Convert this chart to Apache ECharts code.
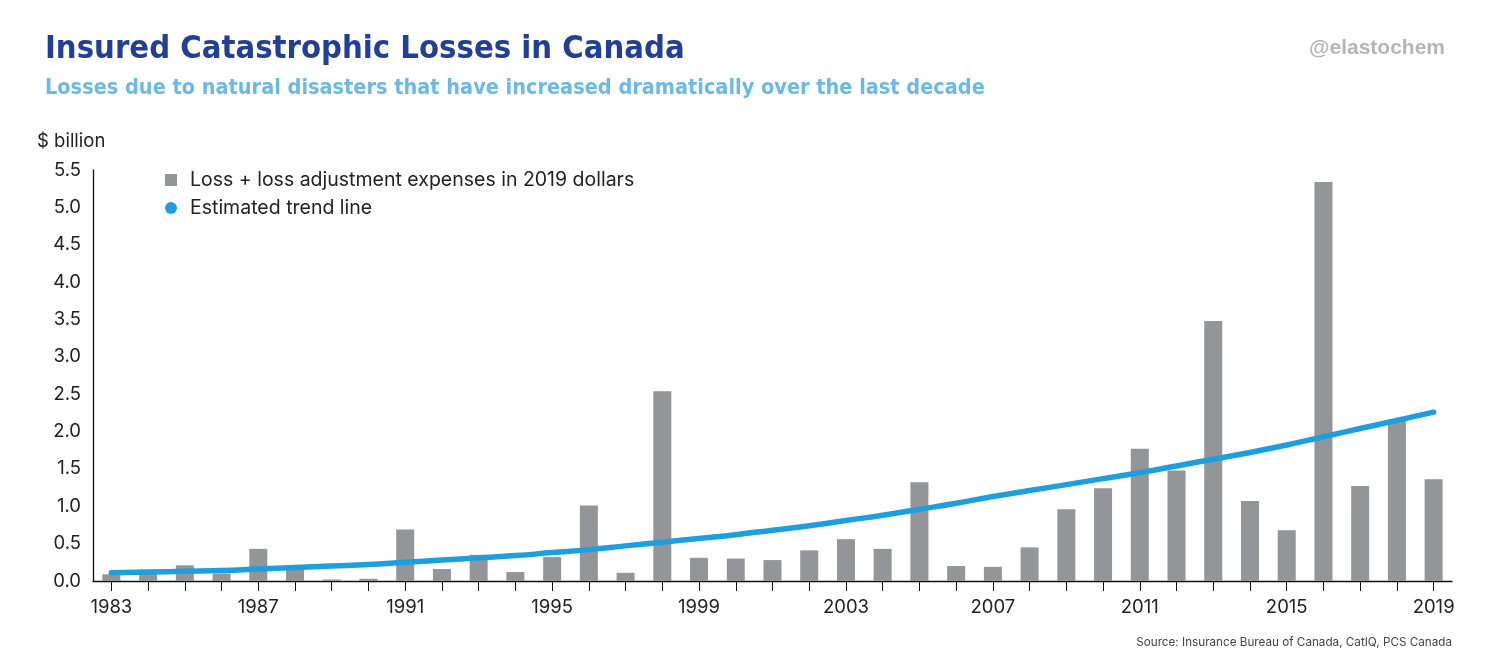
<!DOCTYPE html>
<html><head><meta charset="utf-8">
<script src="https://cdn.jsdelivr.net/npm/echarts@6/dist/echarts.min.js"></script>
<style>html,body{margin:0;padding:0;background:#fff}#c{width:1500px;height:664px}</style>
</head><body><div id="c"></div>
<script>
const years = ['1983','1984','1985','1986','1987','1988','1989','1990','1991','1992','1993','1994','1995','1996','1997','1998','1999','2000','2001','2002','2003','2004','2005','2006','2007','2008','2009','2010','2011','2012','2013','2014','2015','2016','2017','2018','2019'];
const losses = [0.09,0.10,0.21,0.10,0.43,0.20,0.02,0.03,0.69,0.16,0.35,0.12,0.32,1.01,0.11,2.54,0.31,0.30,0.28,0.41,0.56,0.43,1.32,0.20,0.19,0.45,0.96,1.24,1.77,1.48,3.48,1.07,0.68,5.34,1.27,2.16,1.36];
const trend = [0.11,0.12,0.13,0.14,0.16,0.18,0.20,0.22,0.25,0.28,0.31,0.34,0.38,0.42,0.47,0.52,0.57,0.62,0.68,0.74,0.81,0.88,0.96,1.04,1.13,1.21,1.29,1.37,1.45,1.54,1.63,1.72,1.82,1.93,2.04,2.15,2.26];
const yTicks = ['0.0','0.5','1.0','1.5','2.0','2.5','3.0','3.5','4.0','4.5','5.0','5.5'];
const names = ['Loss + loss adjustment expenses in 2019 dollars','Estimated trend line'];

const chart = echarts.init(document.getElementById('c'));
const bodyFont = 'Inter, "Noto Sans", sans-serif';
const condFont = '"Liberation Sans Narrow","DejaVu Sans Condensed",sans-serif';
chart.setOption({
  animation:false,
  backgroundColor:'#fff',
  textStyle:{fontFamily:bodyFont},
  title:[
    {text:'Insured Catastrophic Losses in Canada',left:40,top:28,textStyle:{fontFamily:condFont,fontWeight:'bold',fontSize:32.5,color:'#213f97'}},
    {text:'Losses due to natural disasters that have increased dramatically over the last decade',left:40,top:72,textStyle:{fontFamily:condFont,fontWeight:'bold',fontSize:21.5,color:'#6cb8e6'}},
    {text:'@elastochem',right:50,top:33,textStyle:{fontFamily:'"Liberation Sans","DejaVu Sans",sans-serif',fontWeight:'bold',fontSize:21,color:'#b3b5b9'}},
    {text:'Source: Insurance Bureau of Canada, CatIQ, PCS Canada',right:43,top:631,textStyle:{fontFamily:bodyFont,fontWeight:'normal',fontSize:11.7,color:'#444'}}
  ],
  graphic:[{type:'text',left:37,top:132,style:{text:'$ billion',font:'18.5px '+bodyFont,fill:'#222'}}],
  legend:{orient:'vertical',left:160,top:165,itemGap:8,itemWidth:12,itemHeight:12,
    textStyle:{fontSize:19.5,color:'#222',fontFamily:bodyFont,padding:[0,0,0,8]},
    data:[{name:names[0],icon:'rect'},{name:names[1],icon:'circle'}]},
  grid:{left:93,right:48,top:170,bottom:83,containLabel:false},
  xAxis:{type:'category',data:years,boundaryGap:true,
    axisLine:{lineStyle:{color:'#111',width:1.3}},
    axisTick:{show:true,alignWithLabel:true,interval:0,length:10,lineStyle:{color:'#111'}},
    axisLabel:{interval:3,margin:17,fontSize:18.5,color:'#222',fontFamily:bodyFont},
    splitLine:{show:false}},
  yAxis:{type:'value',min:0,max:5.5,interval:0.5,
    axisLine:{show:true,lineStyle:{color:'#111',width:1.3}},
    axisTick:{show:false},splitLine:{show:false},
    axisLabel:{margin:12,fontSize:18.5,color:'#222',fontFamily:bodyFont,formatter:(v)=>yTicks[Math.round(v/0.5)]}},
  series:[
    {name:names[0],type:'bar',data:losses,barWidth:18,itemStyle:{color:'#949599'},z:2},
    {name:names[1],type:'line',data:trend,smooth:true,showSymbol:false,symbol:'circle',symbolSize:12,
      lineStyle:{color:'#1c9fdc',width:5.5,cap:'round'},itemStyle:{color:'#1c9fdc'},z:3}
  ]
});
</script></body></html>
